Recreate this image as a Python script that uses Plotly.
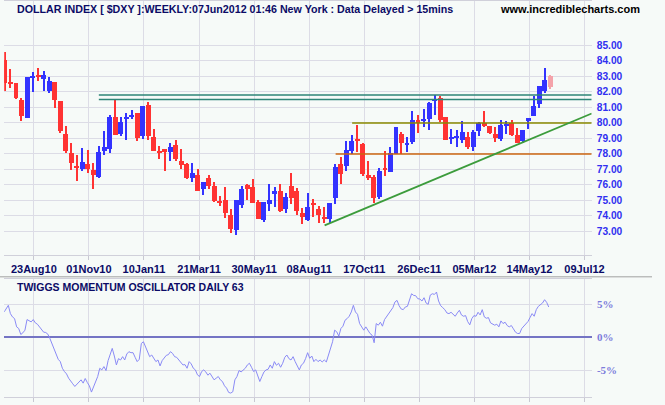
import numpy as np
import plotly.graph_objects as go

# ---------------- data ----------------
opens = [84.06, 82.64, 82.58, 81.48, 80.28, 82.85, 83.09, 82.79, 82.02, 82.64,
         81.42, 79.29, 78.07, 77.12, 76.99, 77.30, 76.97, 76.48, 78.15, 78.28,
         80.39, 79.25, 80.28, 80.39, 80.64, 79.12, 81.16, 79.10, 78.13, 78.33,
         78.09, 78.58, 77.55, 77.30, 76.42, 76.59, 75.71, 76.40, 75.90, 74.94,
         74.98, 74.01, 73.05, 74.66, 75.97, 75.82, 74.91, 73.71, 74.74, 75.39,
         75.62, 74.42, 75.88, 75.56, 74.14, 73.71, 74.74, 74.40, 73.86, 73.78,
         75.13, 77.30, 77.19, 78.15, 78.97, 78.65, 76.65, 76.52, 75.19, 76.99,
         76.80, 77.98, 79.29, 78.61, 78.73, 80.19, 80.09, 80.26, 81.46, 81.61,
         80.39, 78.95, 79.06, 78.86, 79.10, 78.41, 79.48, 79.96, 79.81, 79.29,
         78.93, 79.83, 80.00, 79.23, 78.80, 80.09, 80.41, 81.20, 82.05, 83.03]
highs = [84.57, 83.48, 82.58, 81.57, 82.96, 83.28, 83.54, 83.35, 82.96, 82.64,
         81.42, 79.81, 78.71, 77.94, 78.39, 78.26, 77.42, 78.52, 79.48, 80.52,
         81.48, 80.34, 80.64, 80.84, 80.64, 81.09, 81.35, 79.61, 78.50, 78.33,
         78.71, 78.91, 78.33, 77.40, 77.42, 77.04, 76.20, 76.65, 76.20, 75.26,
         75.82, 74.40, 74.98, 75.94, 76.03, 76.39, 75.02, 74.85, 76.07, 75.82,
         76.01, 75.43, 76.72, 75.79, 74.51, 75.43, 75.09, 74.64, 74.53, 74.79,
         77.30, 77.81, 78.84, 79.18, 79.87, 78.71, 77.55, 76.65, 77.06, 78.20,
         78.45, 79.74, 79.42, 79.10, 80.77, 80.52, 80.86, 81.35, 81.78, 81.72,
         80.39, 79.61, 79.51, 80.13, 79.42, 79.51, 80.06, 80.77, 79.81, 79.74,
         80.19, 80.13, 80.19, 79.64, 79.55, 80.32, 81.74, 82.38, 83.54, 83.09]
lows = [82.06, 82.21, 81.50, 80.09, 80.28, 81.95, 82.66, 82.02, 81.89, 80.92,
        79.31, 78.07, 76.93, 76.22, 76.87, 76.72, 75.71, 76.42, 77.90, 78.03,
        79.18, 79.16, 78.86, 80.26, 78.80, 78.93, 78.86, 78.15, 77.64, 76.91,
        77.55, 77.55, 77.00, 76.35, 76.14, 75.58, 75.32, 75.71, 74.87, 74.61,
        73.82, 72.88, 72.75, 74.48, 75.00, 74.81, 73.76, 73.58, 74.29, 74.55,
        74.21, 74.16, 74.72, 74.01, 73.45, 73.63, 73.91, 73.52, 73.50, 73.54,
        74.74, 76.07, 76.87, 78.00, 78.09, 76.55, 76.31, 74.79, 75.06, 76.55,
        76.80, 77.98, 78.00, 78.13, 78.63, 79.31, 79.74, 79.55, 80.49, 80.02,
        78.86, 78.65, 78.41, 78.69, 78.28, 78.18, 79.12, 79.70, 79.25, 78.73,
        78.80, 79.25, 79.12, 78.71, 78.71, 79.57, 80.41, 80.92, 81.89, 82.17]
closes = [82.53, 82.49, 81.57, 80.41, 82.96, 83.03, 82.92, 83.09, 82.70, 81.44,
          79.44, 78.15, 77.38, 77.08, 77.49, 77.04, 76.65, 78.13, 78.45, 80.39,
          79.18, 80.06, 80.39, 80.43, 79.03, 81.09, 79.12, 78.15, 78.09, 78.11,
          78.45, 77.64, 77.25, 76.42, 76.72, 75.58, 76.20, 75.90, 74.94, 74.87,
          74.16, 73.13, 74.98, 75.75, 75.71, 74.81, 73.76, 74.85, 75.04, 75.62,
          74.33, 75.17, 75.13, 74.29, 73.91, 74.53, 74.70, 74.03, 73.80, 74.79,
          77.17, 76.67, 78.26, 78.84, 78.80, 76.67, 76.42, 75.13, 76.89, 76.95,
          78.05, 79.70, 78.67, 78.65, 80.19, 79.98, 80.26, 81.29, 81.50, 80.15,
          78.86, 78.99, 79.10, 79.42, 78.41, 79.40, 80.00, 79.81, 79.31, 78.99,
          79.87, 79.87, 79.18, 78.71, 79.55, 80.32, 81.07, 82.38, 82.75, 82.27]

# x-axis tick labels (every 10 weeks) and the week index they mark
tick_labels = ["23Aug10", "01Nov10", "10Jan11", "21Mar11", "30May11", "08Aug11",
               "17Oct11", "26Dec11", "05Mar12", "14May12", "09Jul12"]
tick_weeks = [6, 16, 26, 36, 46, 56, 66, 76, 86, 96, 106]

price_ticks = [73, 74, 75, 76, 77, 78, 79, 80, 81, 82, 83, 84, 85]

# drawn lines: resistance / support levels (price, first week)
resistance_levels = [81.78, 81.50]
resistance_start = [17, 17]
support_hi_level, support_hi_start = 79.98, 63
support_lo_level, support_lo_start = 77.97, 60
trend_weeks = [58, 94]
trend_prices = [73.37, 78.73]

# Twiggs momentum oscillator (daily 63), %
osc_values = [3.85, 4.35, 4.85, 3.6, 3.1, 2.85, 1.6, 1.35, 0.45, 0.7,
              1.1, 2.7, 2.5, 2.35, 2.7, 2.2, 2.0, 1.6, 1.1, 0.8,
              0.75, 0.5, -0.15, -1.0, -1.65, -2.65, -3.3, -3.65, -4.65, -5.15,
              -5.5, -6.15, -6.5, -7.0, -7.4, -7.1, -6.8, -6.4, -6.9, -6.2,
              -6.8, -7.3, -8.25, -7.4, -6.5, -5.9, -4.65, -4.9, -4.4, -5.0,
              -3.5, -2.65, -1.65, -2.8, -4.15, -3.2, -3.4, -2.9, -3.4, -2.5,
              -2.15, -2.3, -2.3, -3.0, -3.65, -3.3, -0.9, -0.65, -1.4, -2.4,
              -2.9, -2.65, -3.2, -3.65, -3.4, -4.3, -3.5, -3.15, -2.7, -2.6,
              -2.15, -2.4, -2.9, -3.0, -3.4, -3.7, -4.15, -4.1, -4.65, -3.65,
              -4.0, -4.65, -4.9, -5.65, -5.9, -5.15, -4.9, -5.2, -5.7, -5.4,
              -5.9, -6.4, -6.15, -5.9, -6.4, -6.65, -7.3, -7.65, -8.3, -8.4,
              -8.2, -6.4, -5.9, -5.0, -5.2, -4.9, -4.65, -4.15, -3.9, -4.5,
              -5.15, -4.9, -5.9, -6.65, -5.9, -5.2, -4.9, -4.8, -4.15, -4.65,
              -3.65, -4.2, -3.9, -4.5, -3.9, -3.0, -2.65, -3.2, -3.4, -2.9,
              -3.65, -4.2, -4.9, -4.15, -3.9, -3.2, -2.3, -3.15, -2.8, -3.65,
              -3.3, -3.65, -3.4, -3.7, -3.4, -3.7, -2.65, -1.4, -0.65, 1.1,
              0.85, 0.2, 1.35, 1.7, 2.6, 2.85, 3.2, 3.85, 4.85, 3.85,
              3.5, 2.1, 1.6, 1.1, 1.6, 1.0, 0.6, 0.35, -0.8, 2.1,
              1.85, 2.3, 1.7, 2.7, 3.2, 3.6, 4.0, 4.5, 5.35, 5.6,
              4.8, 4.3, 4.2, 4.6, 4.7, 5.85, 6.6, 6.35, 6.3, 5.85,
              5.8, 5.5, 6.0, 5.2, 5.0, 6.4, 6.6, 6.5, 6.85, 5.5,
              4.8, 4.5, 4.2, 3.7, 3.6, 3.8, 3.5, 3.2, 3.7, 4.1,
              3.4, 3.2, 3.3, 2.4, 1.9, 2.85, 3.3, 3.2, 3.8, 3.4,
              4.2, 3.1, 2.9, 3.0, 2.2, 2.0, 1.85, 2.0, 1.6, 2.5,
              2.1, 2.3, 1.8, 1.6, 1.8, 1.3, 0.8, 0.6, 0.6, 1.35,
              1.7, 2.2, 2.4, 3.0, 3.6, 3.2, 4.2, 4.7, 4.9, 5.2,
              5.7, 5.3, 4.6]
osc_first_week, osc_last_week = -0.19, 98.7
osc_ticks = [-5, 0, 5]
osc_tick_text = ["-5%", "0%", "5%"]

title_text = "DOLLAR INDEX [ $DXY ]:WEEKLY:07Jun2012 01:46 New York : Data Delayed > 15mins"
site_text = "www.incrediblecharts.com"
osc_title = "TWIGGS MOMENTUM OSCILLATOR DAILY 63"

# ---------------- style ----------------
W, H = 665, 405
BG = "#F6FAF8"
GRID = "#DCDCE6"
RED, BLUE, PINK = "#FF3333", "#3333FF", "#F4A3AA"
NAVY = "#0B0B66"
FONT = "Liberation Sans"

def fx(px):
    return px / W

def fy(px):
    return 1 - px / H

n = len(opens)
weeks = np.arange(n)
colors = []
for i in range(n):
    if i == n - 1:
        colors.append(PINK)
    elif closes[i] >= opens[i]:
        colors.append(BLUE)
    else:
        colors.append(RED)

body_base = [min(o, c) for o, c in zip(opens, closes)]
body_h = [max(abs(c - o), 0.07) for o, c in zip(opens, closes)]
wick_h = [h - l for h, l in zip(highs, lows)]

X_MIN, X_MAX = -0.18, 106.5
tick_pos = [w - 0.8 for w in tick_weeks]

fig = go.Figure()

# wicks
fig.add_trace(go.Bar(x=weeks, y=wick_h, base=lows, width=0.19,
                     marker=dict(color=colors, line=dict(width=0)),
                     xaxis="x", yaxis="y", showlegend=False, hoverinfo="skip"))
# bodies
fig.add_trace(go.Bar(x=weeks, y=body_h, base=body_base, width=0.9,
                     marker=dict(color=colors, line=dict(width=0)),
                     xaxis="x", yaxis="y", showlegend=False))

# resistance lines (teal)
for lvl, st in zip(resistance_levels, resistance_start):
    fig.add_trace(go.Scatter(x=[st, X_MAX], y=[lvl, lvl], mode="lines",
                             line=dict(color="#2E8577", width=1.5),
                             xaxis="x", yaxis="y", showlegend=False, hoverinfo="skip"))
fig.add_trace(go.Scatter(x=[support_hi_start, X_MAX], y=[support_hi_level] * 2, mode="lines",
                         line=dict(color="#8A8A00", width=1.5),
                         xaxis="x", yaxis="y", showlegend=False, hoverinfo="skip"))
fig.add_trace(go.Scatter(x=[support_lo_start, X_MAX], y=[support_lo_level] * 2, mode="lines",
                         line=dict(color="#CC6611", width=1.5),
                         xaxis="x", yaxis="y", showlegend=False, hoverinfo="skip"))
slope = (trend_prices[1] - trend_prices[0]) / (trend_weeks[1] - trend_weeks[0])
trend_end = trend_prices[0] + slope * (X_MAX - trend_weeks[0])
fig.add_trace(go.Scatter(x=[trend_weeks[0], X_MAX], y=[trend_prices[0], trend_end], mode="lines",
                         line=dict(color="#3C9C3C", width=1.8),
                         xaxis="x", yaxis="y", showlegend=False, hoverinfo="skip"))

# oscillator
osc_x = np.linspace(osc_first_week, osc_last_week, len(osc_values))
fig.add_trace(go.Scatter(x=osc_x, y=osc_values, mode="lines",
                         line=dict(color="#8A8AF5", width=1),
                         xaxis="x2", yaxis="y2", showlegend=False))

xdom = [fx(4.3), fx(603.5)]
axis_common = dict(range=[X_MIN, X_MAX], showgrid=True, gridcolor=GRID, gridwidth=1,
                   tickmode="array", tickvals=tick_pos, ticks="outside", ticklen=4,
                   tickcolor="#C8C8D2", showline=True, linecolor="#D0D0DA", mirror=True,
                   zeroline=False, domain=xdom, fixedrange=True)

fig.update_layout(
    width=W, height=H, autosize=False,
    margin=dict(l=0, r=0, t=0, b=0),
    paper_bgcolor=BG, plot_bgcolor=BG,
    barmode="overlay", bargap=0,
    hovermode=False,
    xaxis=dict(**axis_common, anchor="y", ticktext=tick_labels,
               tickfont=dict(family=FONT, size=11, color=NAVY, weight="bold")),
    xaxis2=dict(**axis_common, anchor="y2", showticklabels=False),
    yaxis=dict(domain=[fy(254.3), fy(0)], range=[71.48, 87.85], side="right",
               tickmode="array", tickvals=price_ticks,
               ticktext=[f"{v:.2f}" for v in price_ticks],
               showgrid=True, gridcolor=GRID, zeroline=False,
               ticks="outside", ticklen=2, tickcolor="rgba(0,0,0,0)",
               showline=False, fixedrange=True,
               tickfont=dict(family=FONT, size=10.2, color="#3030F0", weight="bold"),
               anchor="x"),
    yaxis2=dict(domain=[fy(397.3), fy(279)], range=[-9.04, 8.78], side="right",
                tickmode="array", tickvals=osc_ticks, ticktext=osc_tick_text,
                showgrid=True, gridcolor=GRID, zeroline=True, zerolinecolor="#7474C4",
                zerolinewidth=1.5, ticks="outside", ticklen=2, tickcolor="rgba(0,0,0,0)",
                showline=False, fixedrange=True,
                tickfont=dict(family="Liberation Serif", size=11, color="#7C7CDC", weight="bold"),
                anchor="x2"),
    annotations=[
        dict(text=title_text, x=fx(15), y=fy(8), xref="paper", yref="paper",
             xanchor="left", yanchor="middle", showarrow=False,
             font=dict(family=FONT, size=10.7, color=NAVY, weight="bold")),
        dict(text=site_text, x=fx(655), y=fy(8), xref="paper", yref="paper",
             xanchor="right", yanchor="middle", showarrow=False,
             font=dict(family=FONT, size=11, color="#000000", weight="bold")),
        dict(text=osc_title, x=fx(15), y=fy(287), xref="paper", yref="paper",
             xanchor="left", yanchor="middle", showarrow=False,
             font=dict(family=FONT, size=10.5, color=NAVY, weight="bold")),
    ],
    shapes=[
        dict(type="line", xref="paper", yref="paper", x0=0, x1=1, y0=fy(276.5), y1=fy(276.5),
             line=dict(color="#A0A0A0", width=1)),
    ],
)

fig.write_html(
    "out.html",
    config={"displayModeBar": False, "responsive": False},
    post_script=("document.documentElement.style.overflow='hidden';"
                 "document.body.style.overflow='hidden';"
                 "document.body.style.margin='0';document.body.style.padding='0';"
                 "var gd=document.getElementById('{plot_id}');"
                 "gd.style.width='665px';gd.style.height='405px';"
                 "Plotly.relayout(gd,{width:665,height:405});"),
)
